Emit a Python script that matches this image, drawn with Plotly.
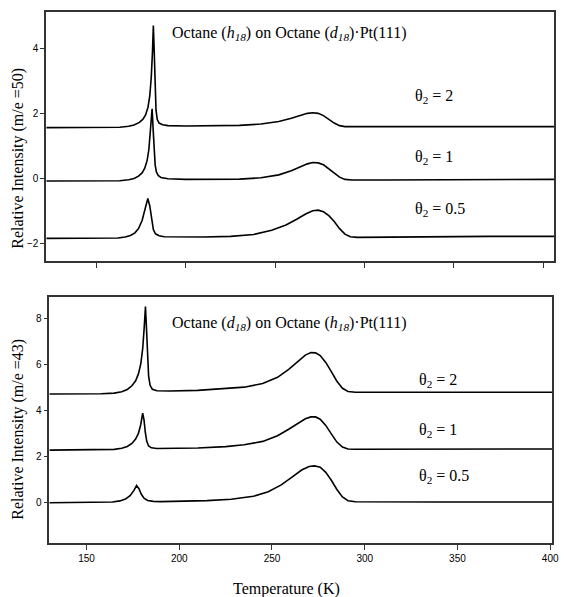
import plotly.graph_objects as go

# ---- Upper panel: octane (h18) on octane (d18)/Pt(111), m/e = 50 ----
top_T_2 = [122, 140, 155, 163, 168, 171, 174, 176, 177.5, 178.8, 179.8, 180.6, 181.3, 181.8,
           182.3, 182.8, 183.3, 184, 185, 187, 190, 200, 215, 230, 242, 252, 259, 264, 268,
           271, 274, 277, 280, 283, 286, 289, 293, 310, 340, 370, 406]
top_I_2 = [1.57, 1.57, 1.57, 1.58, 1.61, 1.65, 1.73, 1.83, 1.97, 2.2, 2.55, 3.1, 3.9, 4.72,
           3.9, 2.8, 2.1, 1.82, 1.71, 1.66, 1.63, 1.62, 1.62, 1.64, 1.68, 1.76, 1.86, 1.95, 2.01,
           2.03, 2.01, 1.94, 1.83, 1.71, 1.63, 1.6, 1.6, 1.6, 1.61, 1.6, 1.6]

top_T_1 = [122, 140, 155, 163, 168, 171, 173.5, 175.5, 177, 178.3, 179.3, 180.2, 181.1,
           181.7, 182.2, 182.8, 183.5, 184.5, 186, 190, 200, 215, 230, 242, 252, 259, 264, 268,
           271, 274, 277, 280, 283, 286, 289, 293, 310, 340, 370, 406]
top_I_1 = [-0.08, -0.08, -0.08, -0.07, -0.04, 0.0, 0.07, 0.17, 0.32, 0.55, 0.9, 1.45, 2.15,
           1.5, 0.85, 0.42, 0.2, 0.09, 0.03, -0.01, -0.03, -0.03, -0.02, 0.02, 0.11, 0.24, 0.36,
           0.45, 0.49, 0.48, 0.42, 0.3, 0.16, 0.04, -0.03, -0.05, -0.05, -0.04, -0.03, -0.03]

top_T_05 = [122, 140, 155, 162, 166, 169, 171.5, 173.5, 175.5, 177, 178.7, 179.8, 180.8,
            181.8, 183, 185, 188, 195, 210, 225, 238, 248, 256, 262, 267, 271, 274, 277, 280,
            283, 286, 289, 292, 296, 310, 340, 370, 406]
top_I_05 = [-1.85, -1.85, -1.85, -1.84, -1.81, -1.76, -1.68, -1.55, -1.3, -0.98, -0.62, -0.85,
            -1.3, -1.58, -1.71, -1.77, -1.8, -1.81, -1.81, -1.79, -1.73, -1.6, -1.44, -1.26,
            -1.1, -1.0, -0.98, -1.03, -1.15, -1.33, -1.55, -1.72, -1.8, -1.82, -1.81, -1.8,
            -1.79, -1.79]

# ---- Lower panel: octane (d18) on octane (h18)/Pt(111), m/e = 43 ----
bot_T_2 = [130, 145, 158, 165, 169, 172, 174.5, 176.5, 178, 179.3, 180.3, 181.1, 181.8,
           182.4, 182.9, 183.5, 184.3, 185.5, 188, 195, 210, 225, 235, 245, 253, 259, 264, 268,
           271, 273.5, 276, 279, 282, 285, 288, 291, 295, 310, 340, 370, 401]
bot_I_2 = [4.72, 4.72, 4.73, 4.76, 4.82, 4.92, 5.08, 5.3, 5.6, 6.05, 6.7, 7.6, 8.54,
           7.5, 6.3, 5.5, 5.1, 4.93, 4.86, 4.85, 4.88, 4.95, 5.02, 5.18, 5.45, 5.8, 6.15, 6.42,
           6.53, 6.52, 6.4, 6.1, 5.7, 5.28, 4.97, 4.83, 4.8, 4.8, 4.8, 4.8, 4.8]

bot_T_1 = [130, 145, 158, 165, 169, 172, 174.5, 176.5, 178, 179.3, 180.3, 181, 181.7,
           182.5, 183.5, 185, 188, 195, 210, 225, 235, 245, 253, 259, 264, 268, 271, 273.5,
           276, 279, 282, 285, 288, 291, 295, 310, 340, 370, 401]
bot_I_1 = [2.27, 2.27, 2.28, 2.3, 2.35, 2.43, 2.56, 2.75, 3.0, 3.4, 3.88, 3.6, 3.05,
           2.65, 2.45, 2.37, 2.34, 2.34, 2.36, 2.42, 2.5, 2.65, 2.9, 3.18, 3.45, 3.64, 3.72,
           3.72, 3.62, 3.35, 2.98, 2.62, 2.4, 2.32, 2.31, 2.31, 2.32, 2.32, 2.32]

bot_T_05 = [130, 145, 158, 164, 168, 171, 173.5, 175.5, 177, 178.3, 179.5, 181, 183, 186,
            190, 200, 215, 228, 240, 248, 255, 261, 266, 270, 273, 276, 279, 282, 285, 288,
            291, 295, 310, 340, 370, 401]
bot_I_05 = [-0.03, -0.03, -0.02, 0.0, 0.05, 0.13, 0.28, 0.5, 0.72, 0.58, 0.35, 0.17, 0.07,
            0.03, 0.02, 0.03, 0.06, 0.12, 0.25, 0.45, 0.75, 1.1, 1.4, 1.55, 1.58, 1.52, 1.3,
            0.95, 0.55, 0.22, 0.06, 0.01, 0.0, 0.0, 0.0, 0.0]

x_ticks = [150, 200, 250, 300, 350, 400]
top_y_ticks = [-2, 0, 2, 4]
bot_y_ticks = [0, 2, 4, 6, 8]

top_title = "Octane (<i>h</i><sub><i>18</i></sub>) on Octane (<i>d</i><sub><i>18</i></sub>)·Pt(111)"
bot_title = "Octane (<i>d</i><sub><i>18</i></sub>) on Octane (<i>h</i><sub><i>18</i></sub>)·Pt(111)"
coverage_labels = ["θ<sub>2</sub> = 2", "θ<sub>2</sub> = 1", "θ<sub>2</sub> = 0.5"]

W, H = 564, 597
SERIF = "Liberation Serif"
SANS = "Liberation Sans"
line_style = dict(color="black", width=1.6)

fig = go.Figure()
for T, I in [(top_T_2, top_I_2), (top_T_1, top_I_1), (top_T_05, top_I_05)]:
    fig.add_trace(go.Scatter(x=T, y=I, mode="lines", line=line_style,
                             xaxis="x", yaxis="y", showlegend=False, hoverinfo="skip"))
for T, I in [(bot_T_2, bot_I_2), (bot_T_1, bot_I_1), (bot_T_05, bot_I_05)]:
    fig.add_trace(go.Scatter(x=T, y=I, mode="lines", line=line_style,
                             xaxis="x2", yaxis="y2", showlegend=False, hoverinfo="skip"))


def px_x(p):
    return p / W


def px_y(p):
    return 1 - p / H


axis_common = dict(showline=True, linecolor="#333333", linewidth=1.5, mirror=True,
                   ticks="outside", tickcolor="#333333", tickwidth=1.2,
                   showgrid=False, zeroline=False, ticklabeloverflow="allow",
                   tickfont=dict(family=SANS, size=10, color="black"))

fig.update_layout(
    width=W, height=H,
    margin=dict(l=0, r=0, t=0, b=0),
    paper_bgcolor="white", plot_bgcolor="white",
    xaxis=dict(domain=[px_x(46.7), px_x(561)], range=[121.8, 406], anchor="y",
               tickvals=x_ticks, showticklabels=False, ticklen=5, **axis_common),
    yaxis=dict(domain=[px_y(261), px_y(12)], range=[-2.55, 5.14], anchor="x",
               tickvals=top_y_ticks, ticklen=4, **axis_common),
    xaxis2=dict(domain=[px_x(50), px_x(559)], range=[130, 401], anchor="y2",
                tickvals=x_ticks, ticklen=5, **axis_common),
    yaxis2=dict(domain=[px_y(543), px_y(297)], range=[-1.79, 8.96], anchor="x2",
                tickvals=bot_y_ticks, ticklen=4, **axis_common),
)

annotations = [
    dict(text=top_title, x=px_x(172), y=px_y(33), xanchor="left", yanchor="middle",
         font=dict(family=SERIF, size=16, color="black")),
    dict(text=bot_title, x=px_x(172), y=px_y(323), xanchor="left", yanchor="middle",
         font=dict(family=SERIF, size=16, color="black")),
    dict(text="Relative Intensity (m/e =50)", x=px_x(18), y=px_y(158), textangle=-90,
         xanchor="center", yanchor="middle", font=dict(family=SERIF, size=16, color="black")),
    dict(text="Relative Intensity (m/e =43)", x=px_x(18), y=px_y(429), textangle=-90,
         xanchor="center", yanchor="middle", font=dict(family=SERIF, size=16, color="black")),
    dict(text="Temperature (K)", x=px_x(290), y=px_y(589), xanchor="center", yanchor="middle",
         font=dict(family=SERIF, size=16, color="black")),
]
for lab, yp in zip(coverage_labels, [97, 157, 210]):
    annotations.append(dict(text=lab, x=px_x(418), y=px_y(yp), xanchor="left", yanchor="middle",
                            font=dict(family=SERIF, size=16, color="black")))
for lab, yp in zip(coverage_labels, [380, 430, 476]):
    annotations.append(dict(text=lab, x=px_x(422), y=px_y(yp), xanchor="left", yanchor="middle",
                            font=dict(family=SERIF, size=16, color="black")))
for a in annotations:
    a.update(xref="paper", yref="paper", showarrow=False)
fig.update_layout(annotations=annotations)

fig.write_html("out.html")
